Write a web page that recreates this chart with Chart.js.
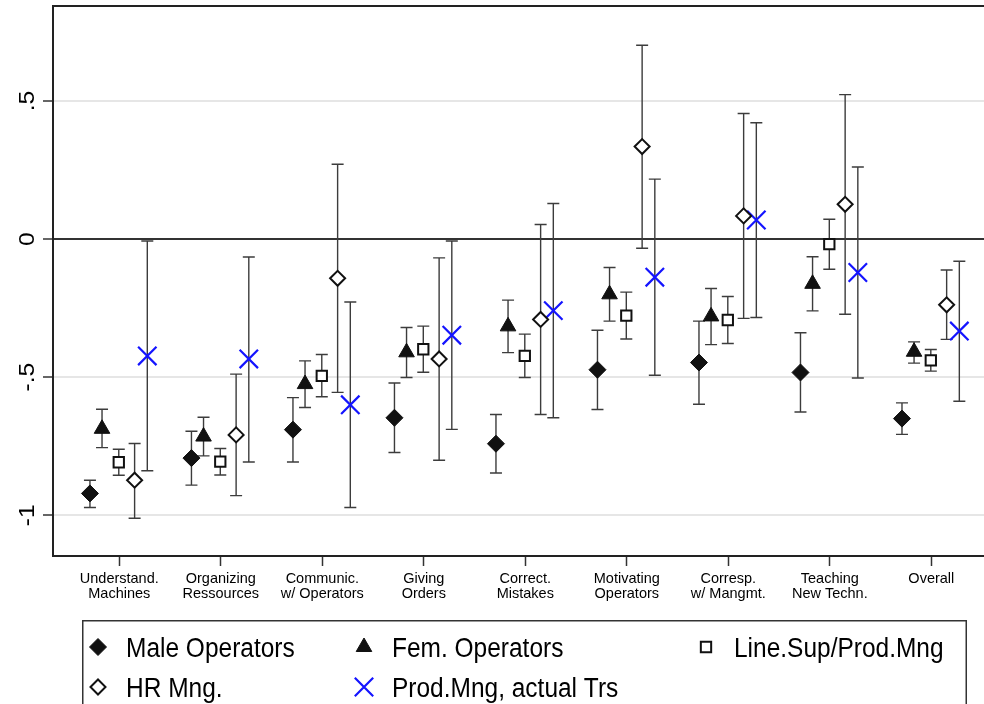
<!DOCTYPE html>
<html>
<head>
<meta charset="utf-8">
<script src="https://cdn.jsdelivr.net/npm/chart.js@4.4.1/dist/chart.umd.min.js"></script>
<style>
  html, body { margin: 0; padding: 0; background: #fff; }
  #wrap { width: 984px; height: 704px; }
</style>
</head>
<body>
<div id="wrap"><canvas id="c" width="984" height="704"></canvas></div>
<script>
// Skill areas on the x axis
const categories = [
  ['Understand.', 'Machines'],
  ['Organizing', 'Ressources'],
  ['Communic.', 'w/ Operators'],
  ['Giving', 'Orders'],
  ['Correct.', 'Mistakes'],
  ['Motivating', 'Operators'],
  ['Corresp.', 'w/ Mangmt.'],
  ['Teaching', 'New Techn.'],
  ['Overall']
];

// Y axis ticks and their labels
const yTicks = [-1, -0.5, 0, 0.5];
const yTickLabels = ['-1', '-.5', '0', '.5'];

const seriesNames = ['Male Operators', 'Fem. Operators', 'Line.Sup/Prod.Mng', 'HR Mng.', 'Prod.Mng, actual Trs'];

// Point estimates with lower / upper confidence bounds
const maleOp   = [-0.921, -0.793, -0.690, -0.647, -0.741, -0.473, -0.447, -0.483, -0.650];
const maleOpLo = [-0.972, -0.891, -0.807, -0.773, -0.847, -0.617, -0.598, -0.626, -0.707];
const maleOpHi = [-0.873, -0.696, -0.574, -0.521, -0.635, -0.330, -0.297, -0.339, -0.593];

const femOp   = [-0.687, -0.715, -0.525, -0.410, -0.316, -0.200, -0.280, -0.162, -0.408];
const femOpLo = [-0.755, -0.785, -0.610, -0.501, -0.411, -0.297, -0.382, -0.260, -0.449];
const femOpHi = [-0.616, -0.645, -0.441, -0.320, -0.221, -0.103, -0.179, -0.064, -0.372];

const lineSup   = [-0.808, -0.806, -0.495, -0.399, -0.423, -0.277, -0.293, -0.018, -0.439];
const lineSupLo = [-0.855, -0.854, -0.571, -0.482, -0.501, -0.362, -0.378, -0.109, -0.478];
const lineSupHi = [-0.761, -0.758, -0.418, -0.315, -0.344, -0.192, -0.208,  0.072, -0.400];

const hrMng   = [-0.873, -0.709, -0.142, -0.434, -0.291,  0.335,  0.084,  0.126, -0.238];
const hrMngLo = [-1.011, -0.929, -0.555, -0.801, -0.635, -0.033, -0.287, -0.272, -0.363];
const hrMngHi = [-0.740, -0.489,  0.271, -0.068,  0.053,  0.702,  0.455,  0.523, -0.112];

const prodTrs   = [-0.423, -0.434, -0.600, -0.348, -0.259, -0.138,  0.069, -0.121, -0.333];
const prodTrsLo = [-0.839, -0.807, -0.972, -0.689, -0.647, -0.493, -0.284, -0.503, -0.587];
const prodTrsHi = [-0.007, -0.065, -0.228, -0.007,  0.129,  0.217,  0.421,  0.261, -0.080];

// Horizontal shift of each series inside a category group
const groupOffsets = [-0.289, -0.170, -0.005, 0.151, 0.276];

const FONT = '"Liberation Sans", Arial, Helvetica, sans-serif';
const BLUE = '#1414ff';

const markerStyles = [
  { pointStyle: 'rectRot',  radius: 8.5, bg: '#111', border: '#111', bw: 1 },
  { pointStyle: 'triangle', radius: 9,   bg: '#111', border: '#111', bw: 1 },
  { pointStyle: 'rect',     radius: 7.3, bg: '#fff', border: '#111', bw: 2 },
  { pointStyle: 'rectRot',  radius: 7.5, bg: '#fff', border: '#111', bw: 2 },
  { pointStyle: 'crossRot', radius: 13,  bg: BLUE,   border: BLUE,   bw: 2.2 }
];

const seriesData = [
  [maleOp, maleOpLo, maleOpHi],
  [femOp, femOpLo, femOpHi],
  [lineSup, lineSupLo, lineSupHi],
  [hrMng, hrMngLo, hrMngHi],
  [prodTrs, prodTrsLo, prodTrsHi]
];

const datasets = seriesData.map(([est, lo, hi], s) => ({
  label: seriesNames[s],
  data: est.map((v, i) => ({ x: i + 1 + groupOffsets[s], y: v, lo: lo[i], hi: hi[i] })),
  pointStyle: markerStyles[s].pointStyle,
  pointRadius: markerStyles[s].radius,
  pointHoverRadius: markerStyles[s].radius,
  backgroundColor: markerStyles[s].bg,
  borderColor: markerStyles[s].border,
  pointBorderWidth: markerStyles[s].bw,
  showLine: false
}));

// Capped confidence intervals behind the markers
const errorBars = {
  id: 'errorBars',
  beforeDatasetsDraw(chart) {
    const { ctx, scales: { x, y } } = chart;
    ctx.save();
    ctx.strokeStyle = '#3c3c3c';
    ctx.lineWidth = 1.4;
    const cap = 6;
    chart.data.datasets.forEach(ds => {
      ds.data.forEach(p => {
        const px = x.getPixelForValue(p.x);
        const top = y.getPixelForValue(p.hi);
        const bot = y.getPixelForValue(p.lo);
        ctx.beginPath();
        ctx.moveTo(px, top); ctx.lineTo(px, bot);
        ctx.moveTo(px - cap, top); ctx.lineTo(px + cap, top);
        ctx.moveTo(px - cap, bot); ctx.lineTo(px + cap, bot);
        ctx.stroke();
      });
    });
    ctx.restore();
  }
};

// Rotated y tick labels, top frame line and the boxed legend
const decorations = {
  id: 'decorations',
  afterDraw(chart) {
    const { ctx, chartArea, scales: { y } } = chart;
    ctx.save();
    // top frame line
    ctx.strokeStyle = '#222';
    ctx.lineWidth = 2;
    ctx.beginPath();
    ctx.moveTo(chartArea.left - 1, chartArea.top);
    ctx.lineTo(chartArea.right, chartArea.top);
    ctx.stroke();

    // y tick labels, reading upwards
    ctx.fillStyle = '#000';
    ctx.font = '22px ' + FONT;
    ctx.textAlign = 'center';
    ctx.textBaseline = 'middle';
    y.ticks.forEach(t => {
      const py = y.getPixelForValue(t.value);
      ctx.save();
      ctx.translate(28, py);
      ctx.rotate(-Math.PI / 2);
      ctx.scale(1.12, 1);
      ctx.fillText(t.label, 0, 0);
      ctx.restore();
    });

    // legend box
    ctx.strokeStyle = '#333';
    ctx.lineWidth = 1.5;
    ctx.strokeRect(82.75, 620.75, 883.5, 100);

    const cols = [98, 364, 706];
    const rows = [647, 687];
    const slots = [[0, 0], [1, 0], [2, 0], [0, 1], [1, 1]];
    ctx.font = '24px ' + FONT;
    ctx.textAlign = 'left';
    ctx.textBaseline = 'alphabetic';
    chart.data.datasets.forEach((ds, i) => {
      const [c, r] = slots[i];
      const mx = cols[c], my = rows[r];
      const st = markerStyles[i];
      ctx.fillStyle = st.bg;
      ctx.strokeStyle = st.border;
      ctx.lineWidth = st.bw;
      Chart.helpers.drawPoint(ctx, { pointStyle: st.pointStyle, radius: st.radius, rotation: 0, borderWidth: st.bw }, mx, my);
      ctx.fillStyle = '#000';
      ctx.save();
      ctx.translate(mx + 28, my + 10);
      ctx.scale(1.02, 1.14);
      ctx.fillText(ds.label, 0, 0);
      ctx.restore();
    });
    ctx.restore();
  }
};

new Chart(document.getElementById('c'), {
  type: 'scatter',
  data: { datasets },
  plugins: [errorBars, decorations],
  options: {
    responsive: false,
    animation: false,
    events: [],
    layout: { autoPadding: false, padding: { top: 6, right: 0, bottom: 100, left: 0 } },
    plugins: { legend: { display: false }, tooltip: { enabled: false } },
    scales: {
      x: {
        type: 'linear',
        min: 0.347,
        max: 9.519,
        afterBuildTicks: s => { s.ticks = categories.map((_, i) => ({ value: i + 1 })); },
        afterFit: s => { s.height = 48; s.paddingLeft = 0; s.paddingRight = 0; },
        ticks: {
          autoSkip: false,
          maxRotation: 0,
          padding: 5,
          color: '#000',
          font: { family: FONT, size: 14.5, lineHeight: 1.08 },
          callback: v => categories[Math.round(v) - 1]
        },
        grid: { drawOnChartArea: false, drawTicks: true, tickLength: 10, tickColor: '#333', tickWidth: 1.5 },
        border: { display: true, color: '#222', width: 2 }
      },
      y: {
        type: 'linear',
        min: -1.1475,
        max: 0.844,
        afterBuildTicks: s => { s.ticks = yTicks.map(v => ({ value: v })); },
        afterFit: s => { s.width = 53; s.paddingTop = 0; s.paddingBottom = 0; },
        ticks: { display: false, callback: v => yTickLabels[yTicks.indexOf(v)] },
        grid: {
          drawTicks: true,
          tickLength: 10,
          tickColor: '#333',
          tickWidth: 1.5,
          color: ctx => (ctx.tick && ctx.tick.value === 0) ? '#333' : '#e6e6e6',
          lineWidth: ctx => 2
        },
        border: { display: true, color: '#222', width: 2 }
      }
    }
  }
});
</script>
</body>
</html>
